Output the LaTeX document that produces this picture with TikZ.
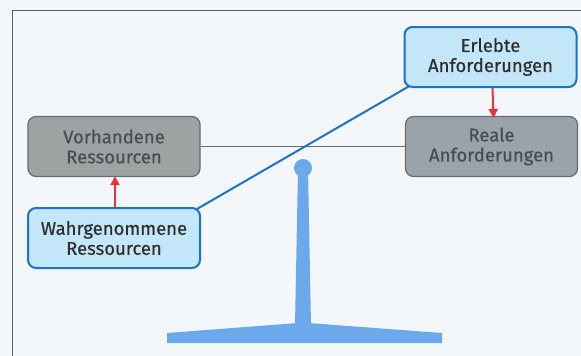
\documentclass[tikz,border=0pt]{standalone}
\usepackage{fontspec}
\setmainfont{Fira Sans}
\newfontfamily\boxfont{Fira Sans}[FakeBold=0.5]
\usetikzlibrary{arrows.meta}
\definecolor{bgc}{HTML}{F4F7FA}
\definecolor{framec}{HTML}{5A5E62}
\definecolor{greyfillA}{HTML}{9DA2A3}
\definecolor{greyfillB}{HTML}{9BA3AA}
\definecolor{greyline}{HTML}{666C70}
\definecolor{greytext}{HTML}{474D52}
\definecolor{bluefill}{HTML}{C3E6F8}
\definecolor{blueline}{HTML}{1C74C8}
\definecolor{pillar}{HTML}{6CA8EC}
\definecolor{redarrow}{HTML}{E8333C}
\tikzset{
  box/.style={rectangle, rounded corners=8pt, minimum width=172pt, minimum height=60pt,
    align=center, font=\boxfont\fontsize{18.5}{20}\selectfont, inner sep=0pt},
  realbox/.style={box, draw=greyline, line width=1.2pt, text=greytext},
  percbox/.style={box, draw=blueline, line width=2pt, fill=bluefill, text=black!82},
  redarr/.style={draw=redarrow, line width=2pt, -{Triangle[length=9pt,width=9pt]}},
}
\begin{document}
\begin{tikzpicture}[x=1pt,y=-1pt]
\useasboundingbox (0,0) rectangle (581,356);
\fill[bgc] (0,0) rectangle (581,356);
\draw[framec, line width=1pt] (12,356) -- (12,10) -- (581,10);
% pillar
\fill[pillar] (167,333) -- (298,323) -- (308,323) -- (442,333) -- (442,343) -- (167,343) -- cycle;
\fill[pillar] (298,168) -- (308,168) -- (311,326) -- (295,326) -- cycle;
\fill[pillar] (303,168) circle (9);
% nodes
\node[realbox, fill=greyfillA] (vr) at (114,146.5) {Vorhandene\\Ressourcen};
\node[realbox, fill=greyfillB] (ra) at (491.5,146.5) {Reale\\Anforderungen};
\node[percbox] (ea) at (490.5,57) {Erlebte\\Anforderungen};
\node[percbox] (wr) at (114,238) {Wahrgenommene\\Ressourcen};
% beam
\draw[greyline, line width=1.5pt] (vr.east) -- (ra.west);
\draw[blueline, line width=2pt] ([shift={(-4,2)}]wr.north east) -- ([shift={(6,-2)}]ea.south west);
% arrows
\draw[redarr] ([xshift=1pt]wr.north) -- ([xshift=1pt,yshift=1pt]vr.south);
\draw[redarr] ([xshift=2pt]ea.south) -- ([xshift=2pt,yshift=-2pt]ra.north);
\end{tikzpicture}
\end{document}
